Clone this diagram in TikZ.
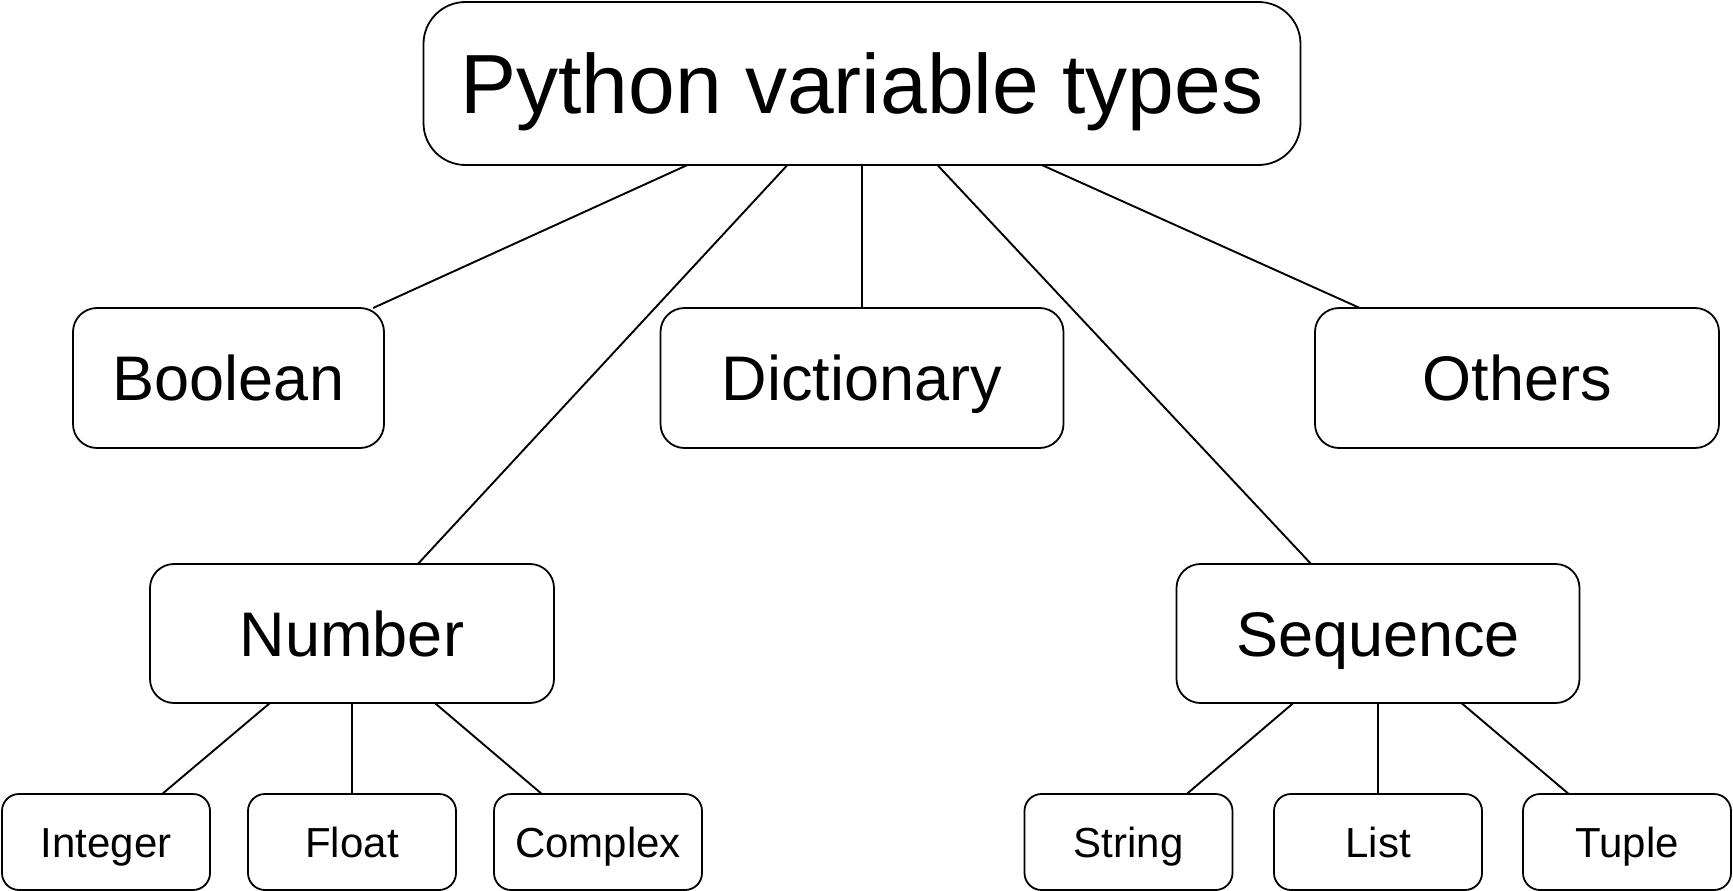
\documentclass[tikz,border=0pt]{standalone}
\usepackage{fontspec}
\setmainfont{Liberation Sans}
\usetikzlibrary{calc}
\begin{document}
\begin{tikzpicture}[x=1pt,y=-1pt,line width=1.8pt,
  box/.style={draw=black,fill=white,inner sep=0pt,outer sep=0pt,align=center},
  titlebox/.style={box,rounded corners=42pt,font=\fontsize{84}{100}\selectfont,text height=60pt,text depth=0pt},
  midbox/.style={box,rounded corners=24pt,minimum height=140pt,font=\fontsize{63}{75}\selectfont,text height=45pt,text depth=0pt},
  smallbox/.style={box,rounded corners=17pt,minimum width=208pt,minimum height=96pt,font=\fontsize{42}{50}\selectfont,text height=30pt,text depth=0pt},
  link/.style={draw=black,line width=1.9pt}]
\useasboundingbox (0,0) rectangle (1733,891);
\node[titlebox,minimum width=877pt,minimum height=163pt] (top) at (862,83.5) {Python variable types};
\node[midbox,minimum width=311pt] (bool) at (228.5,378) {Boolean};
\node[midbox,minimum width=403pt] (dict) at (862,378) {Dictionary};
\node[midbox,minimum width=404pt] (oth) at (1517,378) {Others};
\node[midbox,minimum width=404pt,minimum height=139pt] (num) at (352,633.5) {Number};
\node[midbox,minimum width=403pt,minimum height=139pt] (seq) at (1378,633.5) {Sequence};
\node[smallbox] (int) at (106,842) {Integer};
\node[smallbox] (flt) at (352,842) {Float};
\node[smallbox] (cpx) at (598,842) {Complex};
\node[smallbox] (str) at (1128.5,842) {String};
\node[smallbox] (lst) at (1378,842) {List};
\node[smallbox] (tpl) at (1627,842) {Tuple};
\draw[link] ($(top.south west)!0.301!(top.south east)$) -- ($(bool.north west)!0.965!(bool.north east)$);
\draw[link] ($(top.south west)!0.415!(top.south east)$) -- ($(num.north west)!0.663!(num.north east)$);
\draw[link] (top.south) -- (dict.north);
\draw[link] ($(top.south west)!0.586!(top.south east)$) -- ($(seq.north west)!0.334!(seq.north east)$);
\draw[link] ($(top.south west)!0.705!(top.south east)$) -- ($(oth.north west)!0.111!(oth.north east)$);
\draw[link] ($(num.south west)!0.297!(num.south east)$) -- ($(int.north west)!0.77!(int.north east)$);
\draw[link] (num.south) -- (flt.north);
\draw[link] ($(num.south west)!0.705!(num.south east)$) -- ($(cpx.north west)!0.23!(cpx.north east)$);
\draw[link] ($(seq.south west)!0.29!(seq.south east)$) -- ($(str.north west)!0.78!(str.north east)$);
\draw[link] (seq.south) -- (lst.north);
\draw[link] ($(seq.south west)!0.707!(seq.south east)$) -- ($(tpl.north west)!0.22!(tpl.north east)$);
\end{tikzpicture}
\end{document}
